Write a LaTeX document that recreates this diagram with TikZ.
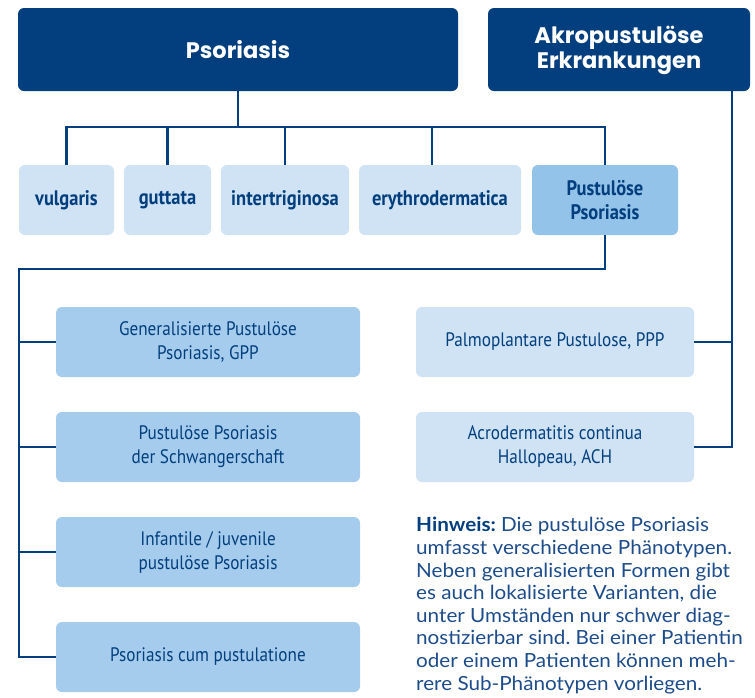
\documentclass[tikz,border=0pt]{standalone}
\usepackage{fontspec}
\setmainfont[FakeStretch=1.06]{Lato}
\newfontfamily\headfont{Poppins}
\newfontfamily\boxfont[FakeStretch=0.88]{PT Sans}
\usetikzlibrary{positioning}
\definecolor{darkblue}{HTML}{033F7E}
\definecolor{paleblue}{HTML}{CFE3F4}
\definecolor{midblue}{HTML}{A5CCEC}
\definecolor{pustblue}{HTML}{93C3E9}
\definecolor{noteblue}{HTML}{1D4C8B}
\frenchspacing
\tikzset{
headbox/.style={fill=darkblue, text=white, rounded corners=6pt,
                align=center, inner sep=0pt, minimum height=83pt,
                font=\headfont\bfseries\fontsize{22.5}{24.5}\selectfont},
typebox/.style={fill=paleblue, text=darkblue, rounded corners=6pt,
                align=center, inner sep=0pt, minimum height=70pt,
                font=\boxfont\bfseries\fontsize{21}{24}\selectfont},
formbox/.style={fill=midblue, text=darkblue, rounded corners=6pt,
                align=center, inner sep=0pt, minimum height=70pt,
                minimum width=304pt,
                font=\boxfont\fontsize{19.5}{24}\selectfont},
link/.style={draw=darkblue, line width=2.5pt}
}
\begin{document}
\begin{tikzpicture}[x=1pt,y=-1pt]
  \useasboundingbox (0,0) rectangle (755,697);
  % top row
  \node[headbox, minimum width=440pt] (pso) at (238,49.5) {Psoriasis};
  \node[headbox, minimum width=262pt, text depth=4pt] (akro) at (619,49.5) {Akropustulöse\\Erkrankungen};
  % subtypes
  \node[typebox, minimum width=95pt] (vulg) at (66.5,200) {vulgaris};
  \node[typebox, minimum width=87pt] (gutt) at (167.5,200) {guttata};
  \node[typebox, minimum width=128pt] (inter) at (285,200) {intertriginosa};
  \node[typebox, minimum width=162pt] (eryth) at (440,200) {erythrodermatica};
  \node[typebox, fill=pustblue, minimum width=146pt] (pust) at (605,200) {Pustulöse\\Psoriasis};
  % phenotypes
  \node[formbox] (gpp) at (208,342) {Generalisierte Pustulöse\\Psoriasis, GPP};
  \node[formbox] (schw) at (208,447) {Pustulöse Psoriasis\\der Schwangerschaft};
  \node[formbox] (juv) at (208,552) {Infantile / juvenile\\pustulöse Psoriasis};
  \node[formbox] (psc) at (208,657) {Psoriasis cum pustulatione};
  \node[formbox, fill=paleblue, minimum width=278pt] (ppp) at (555,342) {Palmoplantare Pustulose, PPP};
  \node[formbox, fill=paleblue, minimum width=278pt] (ach) at (555,447) {Acrodermatitis continua\\Hallopeau, ACH};
  % note
  \node[anchor=base west, align=left, inner sep=0pt, text=noteblue,
        font=\fontsize{19.5}{22.6}\selectfont] (note) at (416,690)
    {\textcolor{darkblue}{\textbf{Hinweis:}} Die pustulöse Psoriasis\\
     umfasst verschiedene Phänotypen.\\
     Neben generalisierten Formen gibt\\
     es auch lokalisierte Varianten, die\\
     unter Umständen nur schwer diag-\\
     nostizierbar sind. Bei einer Patientin\\
     oder einem Patienten können meh-\\
     rere Sub-Phänotypen vorliegen.};

  % connectors
  \coordinate (bus) at (0,127);
  \coordinate (trunk) at (19,269);
  \coordinate (rtrunk) at (732,0);
  \draw[link] (pso.south) -- (pso.south |- bus);
  \draw[link] (vulg.north) -- (vulg.north |- bus) -- (pust.north |- bus) -- (pust.north);
  \foreach \n in {gutt,inter}
    \draw[link] (\n.north |- bus) -- (\n.north);
  \draw[link] ([xshift=-8pt]eryth.north |- bus) -- ([xshift=-8pt]eryth.north);
  \draw[link] (pust.south) |- (trunk) -- (trunk |- psc.west) -- (psc.west);
  \foreach \n in {gpp,schw,juv}
    \draw[link] (trunk |- \n.west) -- (\n.west);
  \draw[link] (akro.south -| rtrunk) |- (ach.east);
  \draw[link] (ppp.east) -- (ppp.east -| rtrunk);
\end{tikzpicture}
\end{document}
